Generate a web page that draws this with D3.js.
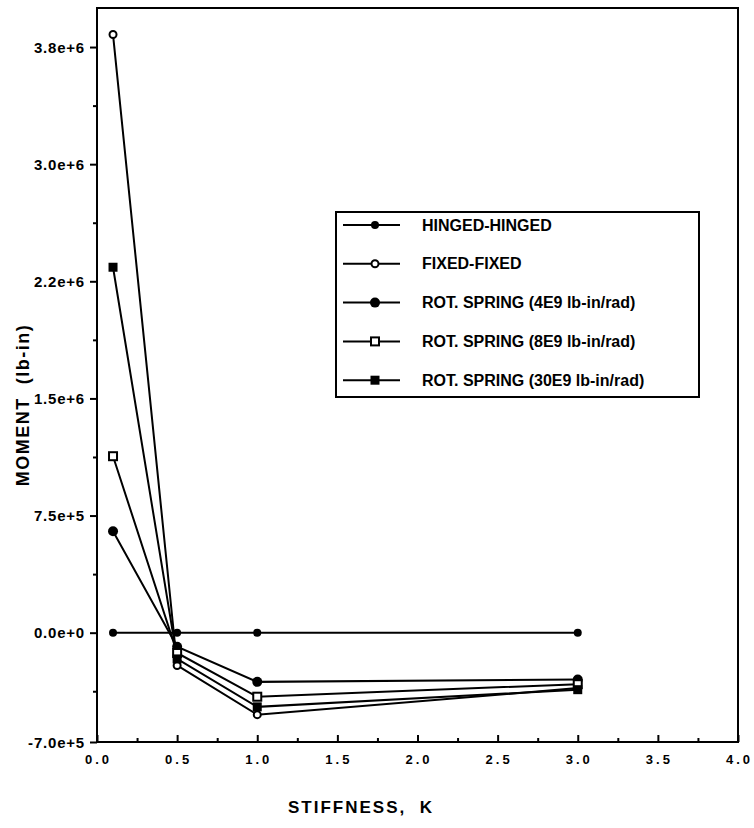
<!DOCTYPE html>
<html>

<head>
    <meta charset="UTF-8">
    <title>moment vs stiffness</title>
    <style>
        body { margin: 0; background: #fff; }
        text { font-family: "Liberation Sans", Arial, sans-serif; font-weight: bold; fill: #000; }
    </style>
</head>

<body>
    <script src="https://cdn.jsdelivr.net/npm/d3@7"></script>

    <svg id="chart" width="754" height="828"></svg>

    <script>
        // stiffness values where the moment was computed
        const stiffness = [0.1, 0.5, 1.0, 3.0];

        // moment (lb-in) for each end condition
        const hingedHinged = [0, 0, 0, 0];
        const fixedFixed = [3.83e6, -2.1e5, -5.25e5, -3.55e5];
        const rotSpring4 = [6.5e5, -0.9e5, -3.15e5, -3.0e5];
        const rotSpring8 = [1.13e6, -1.3e5, -4.1e5, -3.3e5];
        const rotSpring30 = [2.34e6, -1.68e5, -4.75e5, -3.65e5];

        const seriesNames = [
            "HINGED-HINGED",
            "FIXED-FIXED",
            "ROT. SPRING (4E9 lb-in/rad)",
            "ROT. SPRING (8E9 lb-in/rad)",
            "ROT. SPRING (30E9 lb-in/rad)"
        ];

        const xTicks = [0, 0.5, 1.0, 1.5, 2.0, 2.5, 3.0, 3.5, 4.0];
        const yTicks = [-7.0e5, 0, 7.5e5, 1.5e6, 2.25e6, 3.0e6, 3.75e6];
        const yTickLabels = ["-7.0e+5", "0.0e+0", "7.5e+5", "1.5e+6", "2.2e+6", "3.0e+6", "3.8e+6"];

        const svg = d3.select("#chart");
        const plotL = 97, plotR = 738, plotT = 8, plotB = 742;

        const x = d3.scaleLinear().domain([0, 4]).range([plotL, plotR]);
        const y = d3.scaleLinear().domain([-7.0e5, 4.0e6]).range([plotB, plotT]);

        // marker kinds, in legend order
        const markers = ["diamond", "openCircle", "dot", "openSquare", "square"];
        const series = [hingedHinged, fixedFixed, rotSpring4, rotSpring8, rotSpring30].map((vals, i) => ({
            name: seriesNames[i],
            marker: markers[i],
            points: vals.map((v, j) => ({ k: stiffness[j], m: v }))
        }));

        const drawMarker = (g, kind, cx, cy) => {
            if (kind == "diamond") {
                g.append("circle").attr("cx", cx).attr("cy", cy).attr("r", 4).attr("fill", "#000");
            } else if (kind == "openCircle") {
                g.append("circle").attr("cx", cx).attr("cy", cy).attr("r", 3.5)
                    .attr("fill", "#fff").attr("stroke", "#000").attr("stroke-width", 2);
            } else if (kind == "dot") {
                g.append("circle").attr("cx", cx).attr("cy", cy).attr("r", 5).attr("fill", "#000");
            } else if (kind == "openSquare") {
                g.append("rect").attr("x", cx - 4).attr("y", cy - 4).attr("width", 8).attr("height", 8)
                    .attr("fill", "#fff").attr("stroke", "#000").attr("stroke-width", 2);
            } else {
                g.append("rect").attr("x", cx - 4.5).attr("y", cy - 4.5).attr("width", 9).attr("height", 9)
                    .attr("fill", "#000");
            }
        };

        // frame
        svg.append("rect")
            .attr("x", plotL).attr("y", plotT)
            .attr("width", plotR - plotL).attr("height", plotB - plotT)
            .attr("fill", "none").attr("stroke", "#000").attr("stroke-width", 2);

        // x axis: ticks point up into the plot
        const xAxis = svg.append("g").attr("transform", `translate(0,${plotB})`);
        xAxis.call(d3.axisBottom(x).tickValues(d3.range(0, 4.01, 0.25)).tickSize(-4).tickFormat(""));
        xAxis.call(g => g.selectAll(".tick").filter(d => xTicks.includes(d)).select("line").attr("y2", -7));
        xAxis.selectAll(".tick line").attr("stroke-width", 2);
        xAxis.select(".domain").remove();
        svg.append("g").selectAll("text").data(xTicks).join("text")
            .attr("x", d => x(d) + 1.5).attr("y", plotB + 22)
            .attr("text-anchor", "middle")
            .attr("font-size", 13).attr("letter-spacing", 3)
            .text(d => d.toFixed(1));

        // y axis: ticks point out to the left
        const yMinor = d3.range(-3.75e5, 4.0e6, 7.5e5);
        const yAxis = svg.append("g").attr("transform", `translate(${plotL},0)`);
        yAxis.call(d3.axisLeft(y).tickValues(yTicks.concat(yMinor)).tickSize(4).tickFormat(""));
        yAxis.call(g => g.selectAll(".tick").filter(d => yTicks.includes(d)).select("line").attr("x2", -7));
        yAxis.selectAll(".tick line").attr("stroke-width", 2);
        yAxis.select(".domain").remove();
        svg.append("g").selectAll("text").data(yTicks).join("text")
            .attr("x", plotL - 12).attr("y", d => y(d) + 5.5)
            .attr("text-anchor", "end")
            .attr("font-size", 15).attr("letter-spacing", 0.8)
            .text((d, i) => yTickLabels[i]);

        // axis titles
        svg.append("text")
            .attr("x", 361).attr("y", 813)
            .attr("text-anchor", "middle")
            .attr("font-size", 17).attr("letter-spacing", 2)
            .attr("xml:space", "preserve")
            .text("STIFFNESS,  K");
        svg.append("text")
            .attr("transform", "translate(29,405) rotate(-90)")
            .attr("text-anchor", "middle")
            .attr("font-size", 18).attr("letter-spacing", 1.5)
            .attr("xml:space", "preserve")
            .text("MOMENT  (lb-in)");

        // lines and markers
        const line = d3.line().x(d => x(d.k)).y(d => y(d.m));
        const plot = svg.append("g");
        series.forEach(s => {
            plot.append("path").datum(s.points)
                .attr("d", line)
                .attr("fill", "none").attr("stroke", "#000").attr("stroke-width", 2);
        });
        series.forEach(s => {
            s.points.forEach(p => drawMarker(plot, s.marker, x(p.k), y(p.m)));
        });

        // legend
        const legend = svg.append("g");
        legend.append("rect")
            .attr("x", 336).attr("y", 212).attr("width", 363).attr("height", 185)
            .attr("fill", "#fff").attr("stroke", "#000").attr("stroke-width", 2);
        series.forEach((s, i) => {
            const ly = 225 + i * 38.8;
            legend.append("line")
                .attr("x1", 343).attr("x2", 400).attr("y1", ly).attr("y2", ly)
                .attr("stroke", "#000").attr("stroke-width", 2);
            drawMarker(legend, s.marker, 375, ly);
            legend.append("text")
                .attr("x", 422).attr("y", ly + 5.5)
                .attr("font-size", 16)
                .text(s.name);
        });
    </script>

</body>

</html>
